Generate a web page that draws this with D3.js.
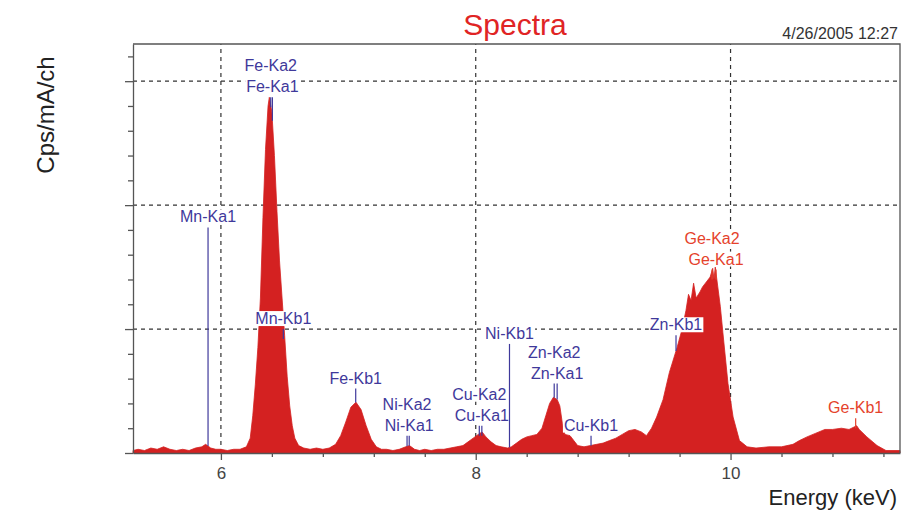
<!DOCTYPE html>
<meta charset="utf-8">
<style>
    body {
        margin: 0;
        background: #fff;
    }

    svg {
        font-family: Arial, "Liberation Sans", sans-serif;
    }

    .axis path,
    .axis line {
        fill: none;
        stroke: #555;
        stroke-width: 1.3;
    }

    .axis text {
        fill: #444;
        font-size: 17px;
    }

    .grid line {
        stroke: #333;
        stroke-width: 1.2;
        stroke-dasharray: 4,4;
    }
</style>
<body>
<script src="https://cdn.jsdelivr.net/npm/d3@7"></script>
<script>
    // spectrum (keV, counts in grid units)
    const energy = [
        5.31, 5.35, 5.40, 5.45, 5.50, 5.55, 5.60, 5.65, 5.70, 5.75, 5.80, 5.85, 5.88, 5.92, 5.96,
        6.00, 6.05, 6.10, 6.15, 6.20, 6.23, 6.25, 6.27, 6.29, 6.31, 6.33, 6.35, 6.37, 6.38, 6.40,
        6.42, 6.44, 6.46, 6.48, 6.50, 6.52, 6.54, 6.56, 6.58, 6.61, 6.65, 6.70, 6.75, 6.80, 6.85,
        6.90, 6.94, 6.98, 7.02, 7.06, 7.10, 7.14, 7.18, 7.22, 7.26, 7.30, 7.35, 7.40, 7.45, 7.48,
        7.52, 7.56, 7.60, 7.65, 7.70, 7.75, 7.80, 7.85, 7.90, 7.94, 7.98, 8.02, 8.05, 8.08, 8.12,
        8.16, 8.20, 8.25, 8.28, 8.32, 8.36, 8.40, 8.44, 8.48, 8.52, 8.55, 8.58, 8.61, 8.64, 8.66,
        8.68, 8.70, 8.74, 8.77, 8.80, 8.85, 8.90, 8.95, 9.00, 9.05, 9.10, 9.15, 9.20, 9.25, 9.30,
        9.34, 9.38, 9.42, 9.47, 9.52, 9.58, 9.62, 9.65, 9.67, 9.69, 9.71, 9.73, 9.76, 9.78, 9.81,
        9.84, 9.86, 9.87, 9.88, 9.90, 9.92, 9.94, 9.98, 10.02, 10.07, 10.13, 10.20, 10.30, 10.40, 10.49,
        10.54, 10.60, 10.67, 10.74, 10.80, 10.87, 10.93, 10.99, 11.01, 11.07, 11.15, 11.22, 11.33
    ];
    const cps = [
        0.02, 0.03, 0.02, 0.04, 0.03, 0.05, 0.03, 0.02, 0.03, 0.02, 0.04, 0.05, 0.07, 0.04, 0.03,
        0.03, 0.02, 0.03, 0.03, 0.05, 0.12, 0.30, 0.55, 0.85, 1.25, 1.90, 2.45, 2.80, 2.87, 2.75,
        2.40, 1.95, 1.55, 1.25, 0.95, 0.62, 0.38, 0.22, 0.12, 0.06, 0.04, 0.03, 0.04, 0.03, 0.04,
        0.07, 0.14, 0.25, 0.37, 0.41, 0.35, 0.22, 0.11, 0.05, 0.03, 0.03, 0.02, 0.03, 0.05, 0.06,
        0.03, 0.02, 0.03, 0.02, 0.03, 0.03, 0.04, 0.05, 0.06, 0.09, 0.12, 0.15, 0.17, 0.13, 0.09,
        0.06, 0.05, 0.04, 0.05, 0.08, 0.11, 0.13, 0.14, 0.15, 0.20, 0.30, 0.40, 0.45, 0.43, 0.38,
        0.24, 0.15, 0.14, 0.10, 0.06, 0.05, 0.06, 0.07, 0.08, 0.10, 0.12, 0.15, 0.18, 0.19, 0.17,
        0.14, 0.20, 0.29, 0.43, 0.65, 0.85, 1.00, 1.15, 1.28, 1.23, 1.37, 1.25, 1.30, 1.34, 1.38,
        1.42, 1.49, 1.40, 1.50, 1.34, 1.18, 0.97, 0.56, 0.29, 0.10, 0.05, 0.04, 0.05, 0.05, 0.07,
        0.10, 0.13, 0.16, 0.19, 0.19, 0.20, 0.19, 0.22, 0.19, 0.13, 0.06, 0.02, 0.02
    ];

    // emission line markers
    const lineNames = ["Mn-Ka1", "Mn-Kb1", "Fe-Ka2", "Fe-Ka1", "Fe-Kb1", "Ni-Ka2", "Ni-Ka1", "Cu-Ka2", "Cu-Ka1",
        "Ni-Kb1", "Zn-Ka2", "Zn-Ka1", "Cu-Kb1", "Zn-Kb1", "Ge-Ka2", "Ge-Ka1", "Ge-Kb1"];
    const lineEnergies = [5.899, 6.490, 6.391, 6.404, 7.058, 7.461, 7.478, 8.028, 8.048,
        8.265, 8.616, 8.639, 8.905, 9.572, 9.855, 9.886, 10.982];
    const lineTops = [1.82, 1.00, 2.87, 2.87, 0.52, 0.14, 0.14, 0.22, 0.22,
        0.88, 0.56, 0.56, 0.14, 0.95, 1.48, 1.48, 0.28];

    const xMajorTicks = [6, 8, 10];
    const xMinorTicks = [6.4, 6.8, 7.2, 7.6, 8.4, 8.8, 9.2, 9.6, 10.4, 10.8, 11.2];
    const yMajorTicks = [0, 1, 2, 3];
    const yMinorTicks = [0.2, 0.4, 0.6, 0.8, 1.2, 1.4, 1.6, 1.8, 2.2, 2.4, 2.6, 2.8, 3.2];

    const width = 901, height = 512;
    const margin = {top: 44, right: 1, bottom: 59, left: 133};

    const svg = d3.select('body').append('svg')
        .attr('width', width)
        .attr('height', height);

    const x = d3.scaleLinear().domain([5.31, 11.33]).range([margin.left, width - margin.right]);
    const y = d3.scaleLinear().domain([0, 3.3]).range([height - margin.bottom, margin.top]);

    // grid
    const grid = svg.append('g').attr('class', 'grid');
    grid.selectAll('.gx').data(xMajorTicks).enter().append('line')
        .attr('x1', d => x(d)).attr('x2', d => x(d))
        .attr('y1', y(0)).attr('y2', margin.top);
    grid.selectAll('.gy').data(yMajorTicks.slice(1)).enter().append('line')
        .attr('x1', margin.left).attr('x2', width - margin.right)
        .attr('y1', d => y(d)).attr('y2', d => y(d));

    // spectrum
    const spec = energy.map((e, i) => [e, cps[i]]);
    const area = d3.area()
        .x(d => x(d[0]))
        .y0(y(0))
        .y1(d => y(d[1]));
    svg.append('path')
        .datum(spec)
        .attr('d', area)
        .attr('fill', '#d42121')
        .attr('stroke', '#d42121')
        .attr('stroke-width', 0.8);

    // frame
    svg.append('path')
        .attr('d', `M${margin.left},${margin.top}H${width - margin.right}V${y(0)}`)
        .attr('fill', 'none')
        .attr('stroke', '#555')
        .attr('stroke-width', 1.3);

    // axes
    svg.append('g').attr('class', 'x axis')
        .attr('transform', `translate(0,${y(0)})`)
        .call(d3.axisBottom(x).tickValues(xMinorTicks).tickSize(4).tickFormat(''))
        .call(g => g.select('.domain').remove());
    svg.append('g').attr('class', 'x axis')
        .attr('transform', `translate(0,${y(0)})`)
        .call(d3.axisBottom(x).tickValues(xMajorTicks).tickSize(7).tickSizeOuter(0).tickPadding(7).tickFormat(d3.format('d')));
    svg.append('g').attr('class', 'y axis')
        .attr('transform', `translate(${margin.left},0)`)
        .call(d3.axisLeft(y).tickValues(yMinorTicks).tickSize(5).tickFormat(''))
        .call(g => g.select('.domain').remove());
    svg.append('g').attr('class', 'y axis')
        .attr('transform', `translate(${margin.left},0)`)
        .call(d3.axisLeft(y).tickValues(yMajorTicks).tickSize(8).tickSizeOuter(0).tickFormat(''));

    // line markers
    const specAt = e => {
        const i = d3.bisector(d => d[0]).left(spec, e);
        const a = spec[Math.max(0, i - 1)], b = spec[Math.min(spec.length - 1, i)];
        const t = b[0] === a[0] ? 0 : (e - a[0]) / (b[0] - a[0]);
        return a[1] + t * (b[1] - a[1]);
    };

    const markers = svg.append('g').attr('class', 'markers');
    lineNames.forEach((name, i) => {
        const col = name.startsWith('Ge') ? '#e5422c' : '#3f399b';
        const px = x(lineEnergies[i]);
        const top = y(lineTops[i]);
        const bottom = Math.max(y(specAt(lineEnergies[i])), top + 10);
        markers.append('line')
            .attr('x1', px).attr('x2', px)
            .attr('y1', top).attr('y2', bottom)
            .attr('stroke', col)
            .attr('stroke-width', 1.2);

        const row = name.endsWith('Ka2') ? 1 : 0;
        const g = markers.append('g');
        const t = g.append('text')
            .attr('x', px)
            .attr('y', top - 5 - row * 21)
            .attr('text-anchor', 'middle')
            .attr('fill', col)
            .style('font-size', '16px')
            .text(name);
        const bb = t.node().getBBox();
        g.insert('rect', 'text')
            .attr('x', bb.x - 1).attr('y', bb.y + 1)
            .attr('width', bb.width + 2).attr('height', bb.height - 2)
            .attr('fill', '#fff');
    });

    // titles
    svg.append('text')
        .attr('x', 515).attr('y', 35)
        .attr('text-anchor', 'middle')
        .attr('fill', '#e02424')
        .style('font-size', '30px')
        .text('Spectra');

    svg.append('text')
        .attr('x', 898).attr('y', 39)
        .attr('text-anchor', 'end')
        .attr('fill', '#333')
        .style('font-size', '16px')
        .text('4/26/2005 12:27');

    svg.append('text')
        .attr('transform', 'translate(54,115) rotate(-90)')
        .attr('text-anchor', 'middle')
        .attr('fill', '#222')
        .style('font-size', '24px')
        .text('Cps/mA/ch');

    svg.append('text')
        .attr('x', 897).attr('y', 505)
        .attr('text-anchor', 'end')
        .attr('fill', '#222')
        .style('font-size', '22px')
        .text('Energy (keV)');
</script>
</body>
</html>
